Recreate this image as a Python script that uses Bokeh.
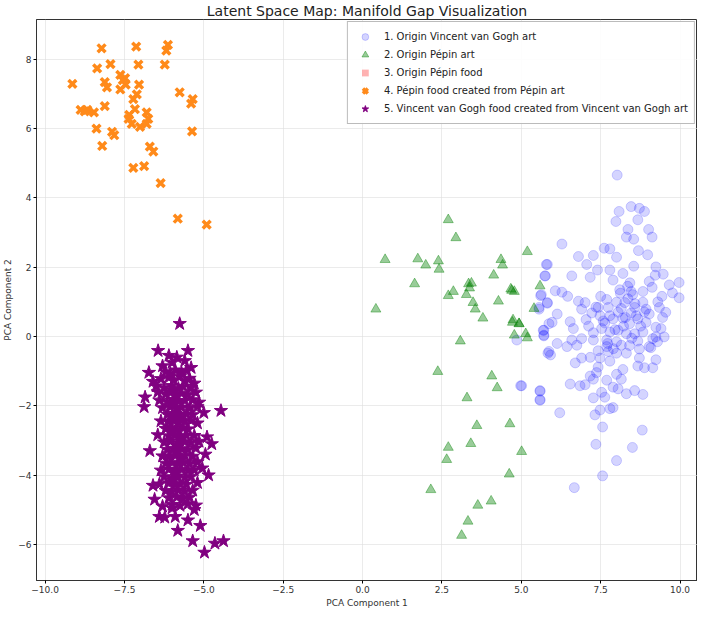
from bokeh.plotting import figure
from bokeh.models import Legend, LegendItem, FixedTicker, CustomJSTickFormatter, Range1d
from bokeh.embed import file_html
from bokeh.resources import INLINE

title = "Latent Space Map: Manifold Gap Visualization"
x_label = "PCA Component 1"
y_label = "PCA Component 2"
labels = [
    "1. Origin Vincent van Gogh art",
    "2. Origin Pépin art",
    "3. Origin Pépin food",
    "4. Pépin food created from Pépin art",
    "5. Vincent van Gogh food created from Vincent van Gogh art",
]
x_ticks = [-10.0, -7.5, -5.0, -2.5, 0.0, 2.5, 5.0, 7.5, 10.0]
y_ticks = [-6, -4, -2, 0, 2, 4, 6, 8]

# 1. Vincent van Gogh art (blue circles)
vg_x = [8.02, 8.46, 8.72, 8.88, 8.08, 7.98, 8.67, 8.36, 8.54, 8.31, 9.01, 9.12, 6.28, 7.61, 7.79, 8.69, 8.98,
        6.80, 7.27, 8.00, 5.82, 7.06, 7.40, 8.54, 9.24, 7.79, 8.20, 6.59, 7.17, 5.74, 9.22, 9.47, 7.89, 9.03,
        9.66, 9.97, 9.12, 6.07, 6.28, 8.10, 8.46, 8.51, 8.83, 5.63, 6.46, 7.50, 9.76, 9.97, 8.36, 9.43, 5.82,
        6.80, 7.01, 7.69, 8.00, 8.26, 8.83, 5.56, 6.90, 7.42, 7.74, 8.15, 8.57, 8.93, 9.35, 9.55, 6.13, 7.22,
        7.48, 7.79, 8.46, 8.88, 9.03, 7.04, 7.89, 8.20, 8.67, 5.97, 6.54, 7.63, 8.41, 8.93, 9.24, 9.40, 5.71,
        6.64, 7.27, 7.53, 7.79, 8.05, 8.31, 8.57, 8.83, 9.24, 9.50, 5.71, 6.59, 6.90, 7.27, 7.69, 8.00, 8.67,
        9.29, 6.13, 6.44, 6.75, 7.69, 8.15, 8.41, 9.03, 9.14, 5.87, 7.42, 7.74, 8.00, 8.31, 8.72, 9.08, 5.92,
        6.90, 7.17, 7.48, 6.70, 7.79, 8.72, 9.24, 9.14, 8.67, 8.88, 7.42, 8.20, 7.37, 8.00, 7.17, 8.15, 7.27,
        7.69, 6.54, 6.85, 7.01, 7.89, 8.05, 8.31, 8.57, 8.83, 7.53, 7.63, 7.27, 5.01, 5.59, 5.59, 7.48, 7.79,
        7.89, 7.32, 6.21, 7.56, 8.81, 7.35, 8.50, 8.00, 7.56, 6.67, 5.79, 5.76, 5.61, 5.56, 5.82, 5.87, 5.69,
        5.71, 4.86, 5.84, 4.98, 5.59, 5.59, 8.35, 8.42, 8.22, 8.62, 8.12, 7.95, 7.72, 7.58, 8.48, 8.76, 8.58,
        7.90, 8.05, 8.28, 9.30, 9.45, 7.12, 7.35]
vg_y = [4.66, 3.75, 3.70, 3.61, 3.61, 3.32, 3.37, 3.09, 2.81, 2.87, 3.09, 2.87, 2.67, 2.55, 2.53, 2.48, 2.36,
        2.31, 2.34, 2.29, 2.08, 2.08, 1.92, 2.03, 2.01, 1.92, 1.82, 1.75, 1.71, 1.75, 1.77, 1.80, 1.63, 1.59,
        1.49, 1.56, 1.42, 1.32, 1.28, 1.35, 1.30, 1.21, 1.30, 1.21, 1.16, 1.16, 1.26, 1.12, 1.09, 1.16, 0.96,
        1.02, 0.98, 1.07, 0.99, 0.98, 0.99, 0.84, 0.79, 0.84, 0.84, 0.81, 0.84, 0.79, 0.84, 0.70, 0.65, 0.68,
        0.60, 0.60, 0.68, 0.71, 0.65, 0.49, 0.51, 0.53, 0.51, 0.41, 0.43, 0.39, 0.37, 0.41, 0.27, 0.23, 0.18,
        0.23, 0.11, 0.23, 0.13, 0.18, 0.08, 0.08, 0.13, -0.01, -0.01, 0.02, -0.10, -0.06, -0.10, -0.10, -0.15, -0.13,
        -0.15, -0.20, -0.29, -0.25, -0.29, -0.25, -0.26, -0.29, -0.06, -0.43, -0.41, -0.43, -0.48, -0.48, -0.36, -0.32, -0.53,
        -0.62, -0.60, -0.62, -0.76, -0.71, -0.62, -0.67, -0.90, -0.85, -0.90, -0.88, -0.95, -1.04, -1.09, -1.14, -1.23, -1.23,
        -1.26, -1.37, -1.42, -1.39, -1.46, -1.51, -1.65, -1.56, -1.67, -1.61, -1.75, -1.77, -1.42, -1.56, -1.84, -2.12, -2.08,
        -2.05, -2.26, -2.20, -2.61, -2.70, -3.11, -3.20, -3.58, -4.02, -4.36, 2.08, 1.75, 1.18, 0.79, 0.98, 0.37, 0.18,
        0.04, -0.10, -0.48, -1.42, -1.58, -1.82, 1.45, 1.55, 0.30, 0.60, 1.25, 0.20, -0.20, 0.45, -0.05, 0.30, 0.95,
        -0.35, 0.70, 0.55, 1.00, 0.55, 0.30, 0.85]

# 2. Pépin art (green triangles)
pa_x = [2.70, 2.94, 5.19, 0.71, 1.74, 1.99, 2.39, 2.41, 4.36, 4.41, 1.64, 4.13, 3.34, 3.43, 3.37, 3.27, 2.70,
        2.86, 4.67, 4.78, 5.59, 3.48, 3.55, 4.28, 5.40, 0.42, 3.79, 4.74, 4.93, 4.78, 5.14, 5.19, 3.08, 2.37,
        4.07, 4.24, 3.29, 3.60, 4.64, 2.70, 3.41, 2.65, 5.01, 4.62, 2.15, 3.63, 4.05, 3.32, 3.12, 4.72, 4.93,
        4.70]
pa_y = [3.37, 2.85, 2.45, 2.22, 2.24, 2.06, 2.18, 1.94, 2.22, 2.06, 1.52, 1.77, 1.52, 1.54, 1.40, 1.21, 1.18,
        1.30, 1.37, 1.30, 1.46, 0.98, 0.79, 1.02, 0.81, 0.79, 0.53, 0.48, 0.37, 0.04, 0.08, -0.04, -0.13, -1.01,
        -1.14, -1.48, -1.77, -2.57, -2.52, -3.20, -3.09, -3.55, -3.32, -3.97, -4.42, -4.87, -4.75, -5.33, -5.74, 0.41, 0.37,
        1.33]

# 3. Pépin food (no points visible in the picture)
pf_x = [float("nan")]
pf_y = [float("nan")]

# 4. Pépin food created from Pépin art (orange crosses)
pg_x = [-8.22, -7.13, -6.13, -6.18, -7.94, -7.06, -6.23, -8.36, -9.14, -8.12, -8.05, -7.63, -7.48, -7.46, -7.63,
        -7.04, -7.11, -7.22, -5.76, -5.35, -5.40, -8.12, -8.88, -8.67, -8.46, -7.17, -6.80, -7.37, -6.75, -7.27,
        -7.01, -6.80, -8.38, -7.89, -7.82, -5.37, -8.20, -6.70, -6.59, -7.22, -6.88, -6.36, -5.82, -4.91, -7.55,
        -8.75, -7.35]
pg_y = [8.32, 8.37, 8.42, 8.25, 7.86, 7.85, 7.85, 7.74, 7.29, 7.34, 7.19, 7.55, 7.46, 7.27, 7.13, 7.27, 6.99,
        6.85, 7.05, 6.85, 6.72, 6.65, 6.54, 6.54, 6.47, 6.56, 6.47, 6.28, 6.28, 6.14, 6.05, 6.14, 6.00, 5.91,
        5.81, 5.92, 5.50, 5.48, 5.34, 4.87, 4.92, 4.43, 3.40, 3.23, 7.40, 6.50, 6.40]

# 5. Vincent van Gogh food created from Vincent van Gogh art (purple stars)
vf_x = [-5.76, -6.44, -5.50, -6.10, -5.85, -5.60, -6.73, -6.30, -5.40, -6.00, -6.85, -6.88, -4.46, -6.60, -6.45,
        -5.30, -5.15, -5.00, -5.20, -4.90, -4.75, -4.95, -5.05, -4.85, -6.70, -6.60, -6.55, -6.30, -6.40, -6.23,
        -5.82, -5.35, -4.98, -4.65, -4.38, -5.11, -5.50, -5.30, -5.90, -6.00,
        -6.20, -5.90, -5.70, -5.55, -6.05,
        -6.35, -6.10, -5.95, -5.75, -5.45, -5.60,
        -6.50, -6.25, -6.00, -5.80, -5.65, -5.40,
        -6.20, -6.05, -5.90, -5.70, -5.50, -5.25,
        -6.40, -6.15, -5.95, -5.80, -5.60, -5.35,
        -6.30, -6.05, -5.85, -5.70, -5.45, -5.20,
        -6.15, -6.00, -5.90, -5.75, -5.55, -5.35,
        -6.35, -6.10, -5.95, -5.80, -5.60, -5.40,
        -6.20, -6.00, -5.85, -5.65, -5.50,
        -6.45, -6.10, -5.90, -5.75, -5.55, -5.30,
        -6.25, -6.05, -5.80, -5.60, -5.40, -5.15,
        -6.15, -5.95, -5.85, -5.70, -5.50, -5.25,
        -6.30, -6.10, -5.90, -5.75, -5.60, -5.35,
        -6.20, -6.00, -5.80, -5.65, -5.45, -5.20,
        -6.35, -6.10, -5.90, -5.70, -5.50, -5.30,
        -6.25, -6.00, -5.85, -5.60, -5.40,
        -6.40, -6.10, -5.90, -5.75, -5.55, -5.20,
        -6.20, -6.00, -5.80, -5.60, -5.35,
        -6.10, -5.85, -5.65, -5.45,
        -6.00, -5.75, -5.50, -5.25,
        -5.95, -5.80, -6.05, -5.85, -5.70, -5.90, -6.00, -5.78, -5.88, -5.95]
vf_y = [0.37, -0.41, -0.41, -0.55, -0.60, -0.70, -1.04, -0.85, -0.90, -0.75, -1.75, -2.03, -2.14, -1.30, -1.60,
        -1.35, -1.90, -2.20, -2.50, -2.90, -3.10, -3.40, -3.80, -4.00, -3.30, -4.30, -4.70, -4.90, -5.20, -5.22,
        -5.60, -5.90, -6.23, -5.97, -5.90, -5.46, -5.30, -5.00, -5.20, -4.95,
        -1.02, -0.97, -1.05, -0.98, -1.08,
        -1.22, -1.18, -1.25, -1.15, -1.21, -1.28,
        -1.43, -1.48, -1.42, -1.50, -1.44, -1.47,
        -1.66, -1.62, -1.69, -1.64, -1.67, -1.61,
        -1.84, -1.88, -1.82, -1.87, -1.85, -1.83,
        -2.06, -2.02, -2.08, -2.04, -2.07, -2.03,
        -2.25, -2.28, -2.22, -2.27, -2.24, -2.26,
        -2.44, -2.47, -2.43, -2.48, -2.45, -2.42,
        -2.66, -2.63, -2.68, -2.64, -2.67,
        -2.84, -2.87, -2.83, -2.88, -2.85, -2.86,
        -3.05, -3.02, -3.08, -3.04, -3.06, -3.03,
        -3.26, -3.23, -3.28, -3.24, -3.27, -3.22,
        -3.45, -3.48, -3.43, -3.47, -3.44, -3.46,
        -3.66, -3.63, -3.68, -3.64, -3.67, -3.62,
        -3.86, -3.83, -3.88, -3.84, -3.87, -3.85,
        -4.05, -4.08, -4.03, -4.07, -4.04,
        -4.26, -4.23, -4.28, -4.24, -4.27, -4.22,
        -4.45, -4.48, -4.43, -4.47, -4.44,
        -4.66, -4.63, -4.68, -4.64,
        -4.85, -4.88, -4.83, -4.87,
        -1.95, -2.35, -2.75, -3.15, -3.55, -3.95, -1.55, -2.95, -3.35, -4.15]

p = figure(width=697, height=610, output_backend="svg", toolbar_location=None,
           x_range=Range1d(-10.27, 10.55), y_range=Range1d(-7.04, 9.15),
           min_border_left=4, min_border_right=0, min_border_top=2, min_border_bottom=0)

p.title.text = title
p.title.align = "center"
p.title.text_font = "DejaVu Sans"
p.title.text_font_size = "14px"
p.title.text_font_style = "normal"
p.title.text_color = "#222222"
p.title.standoff = 1
p.title.offset = 0

p.outline_line_color = "#333333"
p.outline_line_width = 1
p.background_fill_color = "white"
p.border_fill_color = "white"

for ax in (p.xaxis[0], p.yaxis[0]):
    ax.axis_label_text_font = "DejaVu Sans"
    ax.axis_label_text_font_size = "9px"
    ax.axis_label_text_font_style = "normal"
    ax.axis_label_text_color = "#333333"
    ax.major_label_text_font = "DejaVu Sans"
    ax.major_label_text_font_size = "9px"
    ax.major_label_text_color = "#333333"
    ax.minor_tick_line_color = None
    ax.major_tick_in = 0
    ax.major_tick_out = 3
    ax.major_label_standoff = 2
    ax.axis_label_standoff = 2
    ax.axis_line_color = "#333333"

p.xaxis.axis_label = x_label
p.yaxis.axis_label = y_label
p.xaxis.ticker = FixedTicker(ticks=x_ticks)
p.yaxis.ticker = FixedTicker(ticks=y_ticks)
p.xaxis.formatter = CustomJSTickFormatter(code="return tick.toFixed(1).replace('-', '\u2212');")
p.yaxis.formatter = CustomJSTickFormatter(code="return tick.toFixed(0).replace('-', '\u2212');")

p.grid.grid_line_color = "#dddddd"
p.grid.grid_line_alpha = 0.6

r1 = p.scatter(vg_x, vg_y, marker="circle", size=10, fill_color="blue", fill_alpha=0.17,
               line_color="blue", line_alpha=0.17)
r2 = p.scatter(pa_x, pa_y, marker="triangle", size=10, fill_color="green", fill_alpha=0.4,
               line_color="green", line_alpha=0.4)
r3 = p.scatter(pf_x, pf_y, marker="square", size=10, fill_color="red", fill_alpha=0.3,
               line_color="red", line_alpha=0.0)
r4 = p.scatter(pg_x, pg_y, marker="x", size=11, line_color="#ff8a1a", line_width=3.5)
r5 = p.scatter(vf_x, vf_y, marker="star", size=14, fill_color="purple", line_color="purple")

legend = Legend(items=[LegendItem(label=labels[i], renderers=[r]) for i, r in enumerate([r1, r2, r3, r4, r5])],
                location="top_right")
legend.label_text_font = "DejaVu Sans"
legend.label_text_font_size = "10px"
legend.label_text_color = "#222222"
legend.glyph_width = 22
legend.glyph_height = 17
legend.label_height = 14
legend.label_standoff = 8
legend.spacing = 1
legend.padding = 6
legend.margin = 2
legend.border_line_color = "#bbbbbb"
legend.border_line_alpha = 1
legend.background_fill_alpha = 0.9
p.add_layout(legend)

open("out.html", "w").write(file_html(p, INLINE))
